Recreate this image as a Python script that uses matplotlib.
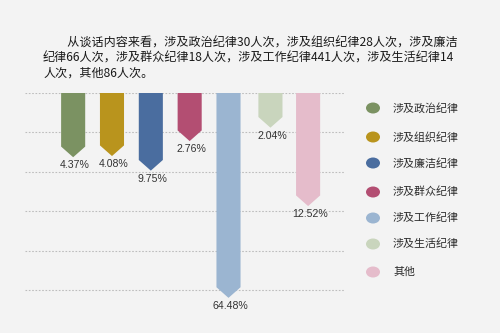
import matplotlib
matplotlib.use("Agg")
import matplotlib.pyplot as plt
from matplotlib.patches import Polygon, Ellipse

plt.rcParams['font.family'] = ['Noto Sans CJK SC', 'DejaVu Sans']

categories = ["涉及政治纪律", "涉及组织纪律", "涉及廉洁纪律", "涉及群众纪律",
              "涉及工作纪律", "涉及生活纪律", "其他"]
pct_labels = ["4.37%", "4.08%", "9.75%", "2.76%", "64.48%", "2.04%", "12.52%"]
# displayed arrow length (tip), in gridline units
bar_length = [1.63, 1.60, 1.97, 1.22, 5.20, 0.88, 2.87]
colors = ["#7b9262", "#b9941d", "#4a6d9f", "#b34e72", "#9bb5d1", "#c9d5bd", "#e5bccb"]
positions = [0, 1, 2, 3, 4, 5.08, 6.05]

title = ("\u3000\u3000从谈话内容来看，涉及政治纪律30人次，涉及组织纪律28人次，涉及廉洁\n"
         "纪律66人次，涉及群众纪律18人次，涉及工作纪律441人次，涉及生活纪律14\n"
         "人次，其他86人次。")

W, H = 500, 333
fig = plt.figure(figsize=(5, 3.33), dpi=100)
fig.patch.set_facecolor("#f3f3f3")

# chart axes: left 25px, right 345px, top 93px, bottom 333px
ax = fig.add_axes([25 / W, 0, 320 / W, 240 / H])
ax.set_facecolor("none")
ax.set_xlim(-1.24, 7.0)
ax.set_ylim(240 / 39.4, 0)
for s in ax.spines.values():
    s.set_visible(False)
ax.set_xticks([])
ax.set_yticks([])
for g in range(6):
    ax.axhline(g, color="#bdbdbd", lw=0.8, ls=(0, (1.5, 1.5)), zorder=0)

bw = 0.62
tip = 0.27
for x, L, c, lab in zip(positions, bar_length, colors, pct_labels):
    poly = Polygon([(x - bw / 2, 0), (x + bw / 2, 0), (x + bw / 2, L - tip),
                    (x, L), (x - bw / 2, L - tip)], closed=True,
                   facecolor=c, edgecolor="none", zorder=2)
    ax.add_patch(poly)
    ax.text(x + 0.05, L + 0.21, lab, ha="center", va="center", fontsize=7.6,
            color="#333333", family=["Liberation Sans"], zorder=3)

fig.text(43 / W, 1 - 58 / H, title, ha="left", va="center", fontsize=8.7,
         color="#1a1a1a", linespacing=1.22, weight="medium")

# legend
ly = [108, 137, 163, 192, 218, 244, 272]
for y, c, name in zip(ly, colors, categories):
    fig.patches.append(Ellipse((373 / W, 1 - y / H), 14 / W, 11 / H,
                               transform=fig.transFigure, facecolor=c,
                               edgecolor="none"))
    fig.text(393 / W, 1 - y / H, name, ha="left", va="center", fontsize=7.9,
             color="#2a2a2a", weight="medium")

fig.savefig("out.png", dpi=100, facecolor=fig.get_facecolor())
